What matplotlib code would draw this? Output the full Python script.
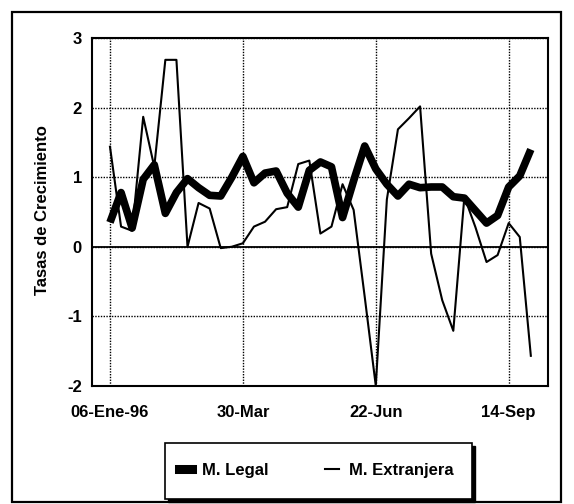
import matplotlib
matplotlib.use('Agg')
import matplotlib.pyplot as plt
import matplotlib.dates as mdates
from matplotlib.lines import Line2D
from matplotlib.patches import Rectangle
import pandas as pd

# ---------------- data ----------------
start_date = "1996-01-06"
legal = [0.35, 0.78, 0.27, 0.97, 1.18, 0.48, 0.78, 0.98, 0.85, 0.74,
         0.73, 1.00, 1.30, 0.92, 1.06, 1.09, 0.77, 0.57, 1.10, 1.22,
         1.15, 0.42, 0.95, 1.45, 1.12, 0.90, 0.73, 0.90, 0.85, 0.86,
         0.86, 0.72, 0.70, 0.52, 0.34, 0.45, 0.86, 1.02, 1.40]
extranjera = [1.44, 0.29, 0.23, 1.87, 1.15, 2.69, 2.69, 0.00, 0.63, 0.55,
              -0.02, 0.00, 0.05, 0.29, 0.36, 0.54, 0.57, 1.19, 1.24, 0.19,
              0.29, 0.90, 0.53, -0.72, -2.00, 0.68, 1.69, 1.85, 2.02, -0.10,
              -0.77, -1.21, 0.72, 0.28, -0.22, -0.12, 0.34, 0.14, -1.57]
tick_weeks = [0, 12, 24, 36]
tick_labels = ["06-Ene-96", "30-Mar", "22-Jun", "14-Sep"]
y_ticks = [3, 2, 1, 0, -1, -2]
series_names = ["M. Legal", "M. Extranjera"]
y_title = "Tasas de Crecimiento"

# ---------------- figure ----------------
plt.rcParams['font.family'] = ['Liberation Sans', 'DejaVu Sans']
plt.rcParams['font.weight'] = 'bold'

dates = pd.date_range(start_date, periods=len(legal), freq="7D")
x = mdates.date2num(dates.to_pydatetime())

fig = plt.figure(figsize=(5.74, 5.04), dpi=100)
fig.patch.set_facecolor('white')

# outer border
fig.patches.append(Rectangle((12 / 574, 2 / 504), 549 / 574, 490 / 504,
                             transform=fig.transFigure, fill=False,
                             edgecolor='black', linewidth=1.6, zorder=0))

ax = fig.add_axes([91.7 / 574, 1 - 385.7 / 504, (548 - 91.7) / 574, (385.7 - 38.3) / 504])

ax.plot(x, legal, color='black', linewidth=5.5, solid_joinstyle='round',
        solid_capstyle='butt', zorder=3)
ax.plot(x, extranjera, color='black', linewidth=1.5, zorder=4)

ax.axhline(0, color='black', linewidth=1.3, zorder=2)

ax.set_ylim(-2, 3)
ax.set_yticks(y_ticks)
ax.set_yticklabels([str(v) for v in y_ticks])
ax.set_xlim(x[0] - 1.65 * 7, x[0] + 39.55 * 7)
ax.set_xticks([x[i] for i in tick_weeks])
ax.set_xticklabels(tick_labels)

ax.grid(True, color='black', linestyle=(0, (1, 1)), linewidth=1.0, zorder=1)
ax.set_axisbelow(True)
ax.tick_params(axis='both', length=0, labelsize=12)
ax.tick_params(axis='x', pad=14)
ax.tick_params(axis='y', pad=7)
for lab in ax.get_xticklabels() + ax.get_yticklabels():
    lab.set_fontweight('bold')
for sp in ax.spines.values():
    sp.set_linewidth(1.5)
    sp.set_color('black')

fig.text(43 / 574, 1 - 210 / 504, y_title, rotation=90, ha='center', va='center',
         fontsize=12, fontweight='bold')

# legend box with shadow
lx0, ly0, lw, lh = 165 / 574, 1 - 499 / 504, 307 / 574, 56 / 504
fig.patches.append(Rectangle((lx0 + 3 / 574, ly0 - 3 / 504), lw, lh,
                             transform=fig.transFigure, facecolor='black',
                             edgecolor='black', zorder=1))
fig.patches.append(Rectangle((lx0, ly0), lw, lh, transform=fig.transFigure,
                             facecolor='white', edgecolor='black',
                             linewidth=1.2, zorder=2))

handles = [Line2D([], [], color='black', linewidth=6.5),
           Line2D([], [], color='black', linewidth=1.5)]
leg = fig.legend(handles, series_names, loc='center',
                 bbox_to_anchor=(0.5505, 1 - 470 / 504), ncol=2, frameon=False,
                 handlelength=0.8, handletextpad=0.6, columnspacing=3.4,
                 prop={'size': 12, 'weight': 'bold'})
leg.set_zorder(5)

fig.savefig('out.png', dpi=100)
